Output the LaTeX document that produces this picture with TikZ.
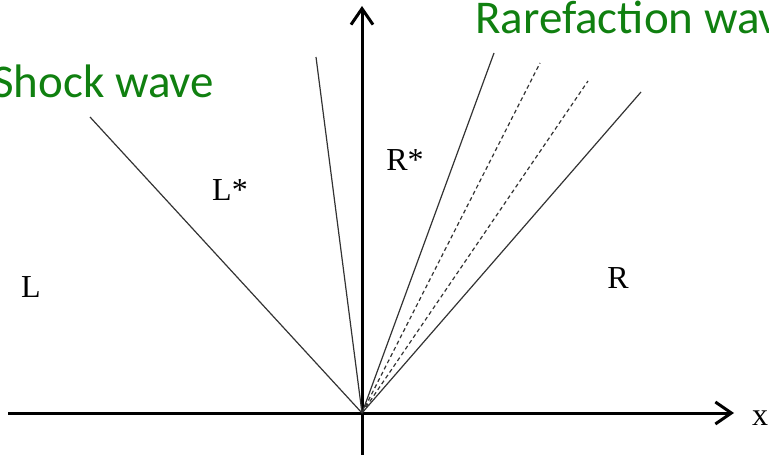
\documentclass[tikz,border=0pt]{standalone}
\usepackage{fontspec}
\setmainfont{Liberation Serif}
\newfontfamily\calfont{Carlito}
\usetikzlibrary{arrows.meta}
\definecolor{wavegreen}{RGB}{16,128,16}
\begin{document}
\begin{tikzpicture}[x=1pt,y=-1pt,
  axis/.style={line width=3pt,-{Straight Barb[length=16pt,width=22pt,line width=3pt]}},
  ray/.style={line width=1.2pt,black!80},
  fan/.style={line width=1.2pt,black!80,dash pattern=on 4pt off 3pt},
  region/.style={font=\fontsize{32}{32}\selectfont,inner sep=0pt},
  wavelabel/.style={font=\calfont\fontsize{47}{47}\selectfont,text=wavegreen,inner sep=0pt,anchor=base west}]
\useasboundingbox (0,0) rectangle (769,455);
\coordinate (O) at (362,413);
\coordinate (ybot) at (362,460);
\coordinate (ytop) at (362,6);
\coordinate (xl) at (8,413);
\coordinate (xr) at (734,413);
\coordinate (s1) at (90,117);
\coordinate (s2) at (316,57);
\coordinate (r1) at (494,53);
\coordinate (r2) at (540,63);
\coordinate (r3) at (588,81);
\coordinate (r4) at (641,92);
\draw[axis] (ybot) -- (ytop);
\draw[axis] (xl) -- (xr);
\draw[ray] (O) -- (s1);
\draw[ray] (O) -- (s2);
\draw[ray] (O) -- (r1);
\draw[fan] (O) -- (r2);
\draw[fan] (O) -- (r3);
\draw[ray] (O) -- (r4);
\node[region] (Ls) at (230,190) {L*};
\node[region] (Rs) at (405,160) {R*};
\node[region] (L) at (31,287) {L};
\node[region] (R) at (618,278) {R};
\node[region] (x) at (760,418) {x};
\node[wavelabel] (sw) at (-8,97) {Shock wave};
\node[wavelabel] (rw) at (475,33) {Rarefaction wave};
\end{tikzpicture}
\end{document}
